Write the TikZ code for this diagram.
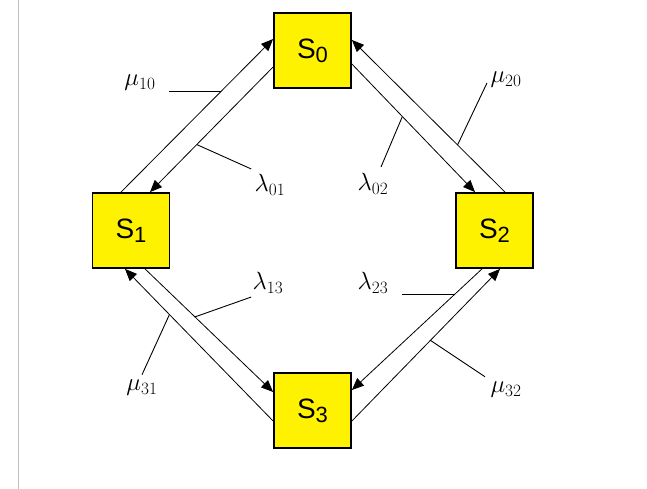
\documentclass[tikz,border=0pt]{standalone}
\usepackage{fontspec}
\setsansfont{Liberation Sans}
\usetikzlibrary{arrows.meta}

\newcommand{\statelabel}[1]{S\raisebox{-4pt}{\fontsize{22}{22}\selectfont #1}}

\begin{document}
\begin{tikzpicture}[x=1pt, y=-1pt,
    state/.style={draw, line width=1.8pt, fill=yellow, minimum width=77pt, minimum height=75pt, inner sep=0pt, font=\sffamily\fontsize{28}{30}\selectfont},
    flow/.style={-{Triangle[length=12pt,width=10pt]}, line width=0.8pt},
    rate/.style={font=\fontsize{26}{30}\selectfont},
    leader/.style={line width=0.9pt}
]
\useasboundingbox (0,0) rectangle (647,489);
\draw[black!25, line width=1.5pt] (18.3,0) -- (18.3,489);

\node[state] (s0) at (312.5,50.5) {\statelabel{0}};
\node[state] (s1) at (131,230.5) {\statelabel{1}};
\node[state] (s2) at (494.5,230.5) {\statelabel{2}};
\node[state] (s3) at (312.5,410.5) {\statelabel{3}};

% S0 and S1
\draw[flow] ([xshift=-10pt]s1.north) -- ([yshift=11.5pt]s0.west) coordinate[pos=0.66] (p10);
\draw[flow] ([yshift=-16.5pt]s0.west) -- ([xshift=19pt]s1.north) coordinate[pos=0.62] (p01);
% S0 and S2
\draw[flow] ([xshift=10.5pt]s2.north) -- ([yshift=10.5pt]s0.east) coordinate[pos=0.31] (p20);
\draw[flow] ([yshift=-13.5pt]s0.east) -- ([xshift=-19.5pt]s2.north) coordinate[pos=0.41] (p02);
% S1 and S3
\draw[flow] ([yshift=-10.5pt]s3.west) -- ([xshift=-6pt]s1.south) coordinate[pos=0.70] (p31);
\draw[flow] ([xshift=14pt]s1.south) -- ([yshift=18.5pt]s3.west) coordinate[pos=0.39] (p13);
% S2 and S3
\draw[flow] ([xshift=-12.5pt]s2.south) -- ([yshift=20.5pt]s3.east) coordinate[pos=0.21] (p23);
\draw[flow] ([yshift=-10.5pt]s3.east) -- ([xshift=5.5pt]s2.south) coordinate[pos=0.53] (p32);

\node[rate] (m10) at (140,83) {$\mu_{10}$};
\node[rate] (l01) at (270,185) {$\lambda_{01}$};
\node[rate] (m20) at (506,80) {$\mu_{20}$};
\node[rate] (l02) at (373,184) {$\lambda_{02}$};
\node[rate] (l13) at (268,283) {$\lambda_{13}$};
\node[rate] (m31) at (142,388) {$\mu_{31}$};
\node[rate] (l23) at (373,283) {$\lambda_{23}$};
\node[rate] (m32) at (506,390) {$\mu_{32}$};

\draw[leader] ([xshift=10pt]m10.east |- p10) -- (p10);
\draw[leader] ([xshift=0pt,yshift=2pt]l01.north west) -- (p01);
\draw[leader] ([yshift=-3pt]m20.west) -- (p20);
\draw[leader] ([xshift=8pt,yshift=3pt]l02.north) -- (p02);
\draw[leader] ([xshift=2pt]l13.south west) -- (p13);
\draw[leader] ([yshift=2pt]m31.north) -- (p31);
\draw[leader] ([xshift=10pt]l23.east |- p23) -- (p23);
\draw[leader] ([xshift=-2pt,yshift=2pt]m32.north west) -- (p32);
\end{tikzpicture}
\end{document}
